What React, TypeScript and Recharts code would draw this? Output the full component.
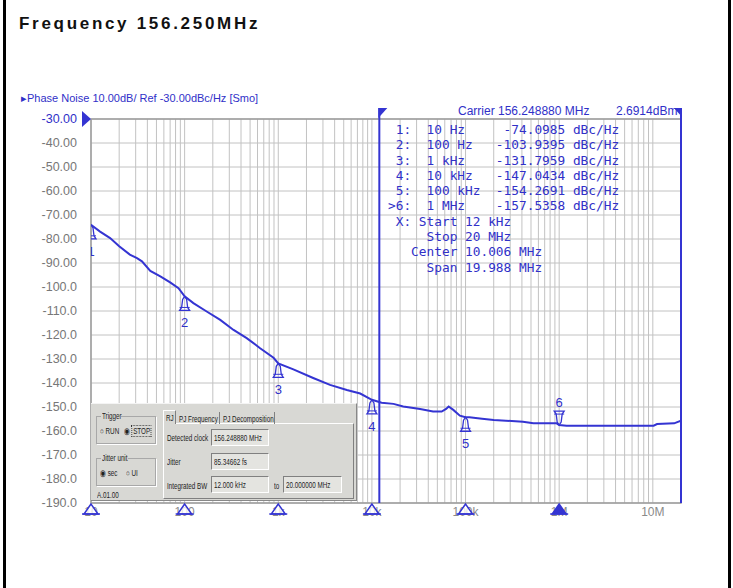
import React from 'react';
import { ComposedChart, Line, Scatter, XAxis, YAxis, CartesianGrid, ReferenceLine, ReferenceArea } from 'recharts';

// phase noise trace (offset Hz, dBc/Hz)
const traceFreq = [
  10, 12.5, 16, 20, 26, 31, 35, 43, 55, 70, 86, 100, 124, 172, 240, 333, 460, 640, 890, 1000,
  1450, 2360, 3570, 5400, 7500, 10000, 12700, 17000, 21600, 32700, 45000, 55600, 62000, 66000,
  74000, 87000, 100000, 110000, 150000, 200000, 410000, 530000, 940000, 1000000, 1200000,
  10200000, 11100000, 16900000, 20000000,
];
const traceDb = [
  -74.1, -76.9, -79.6, -83.0, -86.5, -88.0, -89.3, -93.3, -95.6, -98.1, -100.5, -103.9, -106.7,
  -110.2, -113.7, -117.9, -121.3, -125.5, -129.5, -131.8, -134.3, -137.9, -140.8, -142.9, -144.4,
  -147.0, -148.2, -148.7, -149.8, -150.8, -151.9, -151.9, -150.8, -149.8, -151.2, -153.6, -154.3,
  -154.3, -154.9, -155.4, -156.1, -156.8, -156.8, -157.5, -157.8, -157.8, -157.1, -156.8, -155.7,
];

const markerFreq = [10, 100, 1000, 10000, 100000, 1000000];
const markerName = ['10 Hz', '100 Hz', '1 kHz', '10 kHz', '100 kHz', '1 MHz'];
const markerDb = [-74.0985, -103.9395, -131.7959, -147.0434, -154.2691, -157.5358];

const decades = [10, 100, 1000, 10000, 100000, 1000000, 10000000];
const decadeLabels = ['10', '100', '1k', '10k', '100k', '1M', '10M'];
const yTicks = [-190, -180, -170, -160, -150, -140, -130, -120, -110, -100, -90, -80, -70, -60, -50, -40, -30];

const spanStart = 12000;
const spanStop = 20000000;

const BLUE = '#3434d2';
const TXT = '#3030c8';
const PANEL = '#d8d8d4';

const xTicks: number[] = [];
decades.forEach(d => {
  for (let m = 1; m <= 9; m++) if (d * m <= spanStop) xTicks.push(d * m);
});

const trace = traceFreq.map((f, i) => ({ f, v: traceDb[i] }));
const markers = markerFreq.map((f, i) => ({ f, v: markerDb[i], n: i + 1 }));

const pad = (s: string, n: number) => (s + ' '.repeat(n)).slice(0, n);
const padL = (s: string, n: number) => (' '.repeat(n) + s).slice(-n);
const tableLines = [
  ...markers.map((m, i) =>
    (i === markers.length - 1 ? '>' : ' ') + m.n + ':  ' + pad(markerName[i], 9) + padL(m.v.toFixed(4), 9) + ' dBc/Hz'),
  ' X: Start 12 kHz',
  '     Stop 20 MHz',
  '   Center 10.006 MHz',
  '     Span 19.988 MHz',
];

function YTick(props: any) {
  const { x, y, payload } = props;
  const v = payload.value as number;
  const ref = v === -30;
  return (
    <text x={x} y={y} dy={4} textAnchor="end" fontSize={12.5} fontFamily="Liberation Sans, Arial"
      fill={ref ? TXT : '#777'}>
      {v > -100 ? v.toFixed(2) : v.toFixed(1)}
    </text>
  );
}

function XTick(props: any) {
  const { x, y, payload } = props;
  const i = decades.indexOf(payload.value);
  if (i < 0) return <g />;
  const label = (
    <text x={x} y={y + 13} textAnchor="middle" fontSize={12} fontFamily="Liberation Sans, Arial" fill="#8a8a8a">
      {decadeLabels[i]}
    </text>
  );
  if (i === decades.length - 1) return label;
  const filled = i === markers.length - 1;
  return (
    <g>
      {label}
      <path d={`M${x},${y + 1} L${x - 7},${y + 11} L${x + 7},${y + 11} Z`}
        fill={filled ? BLUE : 'rgba(255,255,255,0.75)'} stroke={BLUE} strokeWidth={1.5} />
      <line x1={x - 9} x2={x + 9} y1={y + 11} y2={y + 11} stroke={BLUE} strokeWidth={1.5} />
    </g>
  );
}

function MarkerShape(props: any) {
  const { cx, cy, payload } = props;
  const s = payload.n === markers.length ? -1 : 1; // active marker sits above the trace
  const d = `M${cx},${cy} L${cx - 2},${cy + s * 3} L${cx - 3},${cy + s * 11} L${cx - 5},${cy + s * 14} ` +
    `L${cx + 5},${cy + s * 14} L${cx + 3},${cy + s * 11} L${cx + 2},${cy + s * 3} Z`;
  return (
    <g>
      <path d={d} fill="none" stroke={BLUE} strokeWidth={1.3} />
      <line x1={cx - 5} x2={cx + 5} y1={cy + s * 11} y2={cy + s * 11} stroke={BLUE} strokeWidth={1} />
      <text x={cx} y={s > 0 ? cy + 31 : cy - 18} textAnchor="middle" fontSize={13}
        fontFamily="Liberation Sans, Arial" fill={TXT}>{payload.n}</text>
    </g>
  );
}

function SpanFlag(props: any) {
  const { viewBox } = props;
  const x = viewBox.x;
  const y = viewBox.y;
  return (
    <g>
      <line x1={x} x2={x} y1={y - 11} y2={y} stroke={BLUE} strokeWidth={2} />
      <path d={`M${x - 1},${y - 11} L${x + 8},${y - 11} L${x - 1},${y - 1} Z`} fill={BLUE} />
    </g>
  );
}

function StopFlag(props: any) {
  const { viewBox } = props;
  const x = viewBox.x;
  const y = viewBox.y;
  return (
    <g>
      <line x1={x} x2={x} y1={y - 11} y2={y} stroke={BLUE} strokeWidth={2} />
      <path d={`M${x + 1},${y - 11} L${x - 7},${y - 11} L${x + 1},${y - 2} Z`} fill={BLUE} />
    </g>
  );
}

function RefArrow(props: any) {
  const { viewBox } = props;
  const x = viewBox.x;
  const y = viewBox.y;
  return <path d={`M${x - 9},${y - 8} L${x},${y} L${x - 9},${y + 8} Z`} fill={BLUE} />;
}

// tiny condensed dialog text
function T({ x, y, children, style }: { x: number; y: number; children: React.ReactNode; style?: React.CSSProperties }) {
  return (
    <div style={{
      position: 'absolute', left: x, top: y, fontFamily: '"Liberation Sans", Arial', fontSize: 8.5, color: '#222',
      whiteSpace: 'nowrap', lineHeight: '10px', transform: 'scaleX(0.74)', transformOrigin: 'left center', ...style,
    }}>{children}</div>
  );
}

const box: React.CSSProperties = {
  position: 'absolute', background: '#e4e4e0', borderTop: '1px solid #808080', borderLeft: '1px solid #808080',
  borderRight: '1px solid #fff', borderBottom: '1px solid #fff', boxSizing: 'border-box', height: 17,
};
const group: React.CSSProperties = {
  position: 'absolute', border: '1px solid #a8a8a8', boxShadow: '1px 1px 0 #fff', boxSizing: 'border-box',
};
const tab: React.CSSProperties = {
  position: 'absolute', top: 8, height: 12, borderRight: '1px solid #808080', boxSizing: 'border-box',
};

function JitterPanel() {
  return (
    <div style={{
      position: 'absolute', left: 91, top: 403, width: 266, height: 98, background: PANEL,
      borderTop: '1px solid #f4f4f4', borderRight: '1px solid #888', borderBottom: '1px solid #888', boxSizing: 'border-box',
    }}>
      <div style={{ ...group, left: 5, top: 12, width: 60, height: 28 }} />
      <div style={{ position: 'absolute', left: 10, top: 8, width: 20, height: 8, background: PANEL }} />
      <T x={11} y={7}>Trigger</T>
      <T x={9} y={22}>○ RUN</T>
      <T x={33} y={22}>◉ <span style={{ border: '1px dotted #333', padding: '0 1px' }}>STOP</span></T>
      <div style={{ ...group, left: 5, top: 54, width: 60, height: 28 }} />
      <div style={{ position: 'absolute', left: 10, top: 50, width: 27, height: 8, background: PANEL }} />
      <T x={11} y={49}>Jitter unit</T>
      <T x={9} y={64}>◉ sec</T>
      <T x={35} y={64}>○ UI</T>
      <T x={6} y={86}>A.01.00</T>

      <div style={{
        position: 'absolute', left: 72, top: 19, width: 191, height: 76, border: '1px solid #fff',
        borderRightColor: '#808080', borderBottomColor: '#808080', boxSizing: 'border-box',
      }} />
      <div style={{ ...tab, left: 72, top: 6, height: 14, width: 13, background: PANEL,
        borderTop: '1px solid #fff', borderLeft: '1px solid #fff' }} />
      <T x={75} y={9}>RJ</T>
      <div style={{ ...tab, left: 85, width: 44 }} />
      <T x={88} y={10}>PJ Frequency</T>
      <div style={{ ...tab, left: 129, width: 55 }} />
      <T x={132} y={10}>PJ Decomposition</T>

      <T x={76} y={29}>Detected clock</T>
      <div style={{ ...box, left: 120, top: 25, width: 58 }} />
      <T x={123} y={29}>156.248880 MHz</T>
      <T x={76} y={53}>Jitter</T>
      <div style={{ ...box, left: 120, top: 49, width: 58 }} />
      <T x={123} y={53}>85.34662 fs</T>
      <T x={76} y={77}>Integrated BW</T>
      <div style={{ ...box, left: 120, top: 72, width: 58 }} />
      <T x={123} y={76}>12.000 kHz</T>
      <T x={183} y={77}>to</T>
      <div style={{ ...box, left: 192, top: 72, width: 59 }} />
      <T x={195} y={76}>20.000000 MHz</T>
    </div>
  );
}

export default function App() {
  return (
    <div style={{ position: 'fixed', left: 0, top: 0, width: 733, height: 588, background: '#fff', overflow: 'hidden' }}>
      <div style={{ position: 'absolute', left: 3, top: 0, width: 3, height: 588, background: '#000' }} />
      <div style={{ position: 'absolute', left: 728, top: 0, width: 3, height: 588, background: '#000' }} />
      <div style={{
        position: 'absolute', left: 19, top: 14, fontFamily: '"Liberation Sans", Arial', fontWeight: 700,
        fontSize: 17, letterSpacing: 2.7, color: '#111',
      }}>Frequency 156.250MHz</div>

      <div style={{ position: 'absolute', left: 0, top: 0 }}>
        <ComposedChart width={733} height={588} margin={{ top: 119, right: 52, bottom: 55, left: 0 }}>
          <CartesianGrid stroke="#c2c2c2" strokeWidth={1} />
          <XAxis dataKey="f" type="number" scale="log" domain={[10, spanStop]} ticks={xTicks} interval={0}
            allowDataOverflow height={30} tickSize={0} tickMargin={0} axisLine={false} tick={<XTick />} />
          <YAxis type="number" domain={[-190, -30]} ticks={yTicks} interval={0} width={91} tickSize={0}
            tickMargin={14} axisLine={false} tick={<YTick />} allowDataOverflow />
          <ReferenceArea x1={10} x2={spanStop} y1={-190} y2={-30} fill="none" stroke="#9c9c9c" strokeWidth={1.5} />
          <ReferenceLine y={-30} stroke="none" label={<RefArrow />} />
          <ReferenceLine x={spanStart} stroke={BLUE} strokeWidth={2} label={<SpanFlag />} />
          <ReferenceLine x={spanStop} stroke={BLUE} strokeWidth={2} label={<StopFlag />} />
          <Line data={trace} dataKey="v" type="linear" stroke={BLUE} strokeWidth={2} dot={false}
            isAnimationActive={false} />
          <Scatter data={markers} dataKey="v" shape={<MarkerShape />} isAnimationActive={false} />
        </ComposedChart>
      </div>

      <div style={{
        position: 'absolute', left: 21, top: 92, fontFamily: '"Liberation Sans", Arial', fontSize: 11,
        color: TXT, whiteSpace: 'nowrap',
      }}>▸Phase Noise 10.00dB/ Ref -30.00dBc/Hz [Smo]</div>
      <div style={{
        position: 'absolute', left: 458, top: 104, fontFamily: '"Liberation Sans", Arial', fontSize: 12,
        color: TXT, whiteSpace: 'nowrap',
      }}>Carrier 156.248880 MHz</div>
      <div style={{
        position: 'absolute', left: 616, top: 104, fontFamily: '"Liberation Sans", Arial', fontSize: 12,
        color: TXT, whiteSpace: 'nowrap',
      }}>2.6914dBm</div>
      <pre style={{
        position: 'absolute', left: 388, top: 122, margin: 0, fontFamily: '"DejaVu Sans Mono", monospace',
        fontSize: 12.8, lineHeight: '15.3px', color: TXT,
      }}>{tableLines.join('\n')}</pre>

      <JitterPanel />
    </div>
  );
}
